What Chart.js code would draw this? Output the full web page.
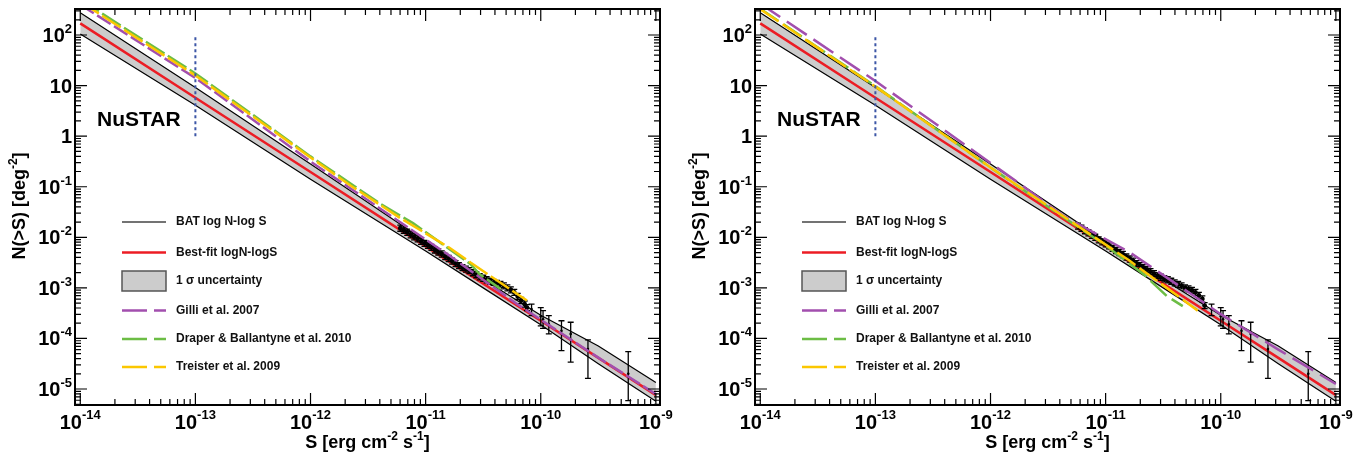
<!DOCTYPE html>
<html>
<head>
<meta charset="utf-8">
<script src="https://cdn.jsdelivr.net/npm/chart.js@4/dist/chart.umd.min.js"></script>
<style>
html, body { margin: 0; padding: 0; background: #fff; }
#wrap { position: relative; width: 1362px; height: 458px; }
.panel { position: absolute; top: 0; }
#p1 { left: 0; }
#p2 { left: 680px; }
</style>
</head>
<body>
<div id="wrap">
  <div class="panel" id="p1"><canvas id="c1" width="680" height="458"></canvas></div>
  <div class="panel" id="p2"><canvas id="c2" width="682" height="458"></canvas></div>
</div>
<script>
// valores en log10
const bandLogS  = [-14, -13, -12, -11, -10.5, -10, -9.5, -9];
const bandUpper = [2.44, 0.96, -0.55, -2.08, -2.83, -3.54, -4.15, -4.87];
const bandLower = [2.02, 0.61, -0.85, -2.27, -3.00, -3.73, -4.50, -5.24];
const bestFit   = [2.23, 0.76, -0.71, -2.18, -2.915, -3.65, -4.385, -5.12];

// modelos, panel izquierdo
const gilliLS    = [-14, -13, -12, -11.39, -10.8, -10.2, -9.5, -9];
const gilliLN    = [2.60, 1.15, -0.50, -1.44, -2.35, -3.33, -4.38, -5.10];
const draperLS   = [-14, -13, -12, -11.39, -11.11, -10.61, -10.53, -10.35];
const draperLN   = [2.70, 1.24, -0.40, -1.34, -1.72, -2.53, -2.73, -3.02];
const treisterLS = [-14, -13, -12, -11.65, -11.22, -10.79, -10.61, -10.12];
const treisterLN = [2.66, 1.20, -0.42, -0.98, -1.62, -2.21, -2.50, -3.25];

// modelos, panel derecho
const gilliRS    = [-14, -13, -12, -11.8, -11.37, -10.79, -10, -9.5, -9];
const gilliRN    = [2.62, 1.09, -0.53, -0.85, -1.57, -2.30, -3.52, -4.22, -4.90];
const draperRS   = [-14, -13, -12, -11.37, -11.02, -10.67, -10.47, -10.33];
const draperRN   = [2.52, 0.99, -0.62, -1.60, -2.13, -2.73, -3.16, -3.36];
const treisterRS = [-14, -13, -12, -11.37, -10.8, -10.2];
const treisterRN = [2.51, 0.98, -0.62, -1.58, -2.45, -3.45];

// datos BAT (zona densa)
const denseLS = [-11.22, -11.19, -11.16, -11.13, -11.10, -11.07, -11.04, -11.01, -10.98, -10.95,
                 -10.92, -10.89, -10.86, -10.83, -10.80, -10.77, -10.74, -10.71, -10.68, -10.65,
                 -10.62, -10.59, -10.56, -10.53, -10.50, -10.47, -10.44, -10.41, -10.38, -10.35,
                 -10.32, -10.29, -10.26, -10.23, -10.20, -10.17, -10.14, -10.12];
const denseLN = [-1.82, -1.86, -1.90, -1.95, -1.99, -2.03, -2.08, -2.12, -2.16, -2.20,
                 -2.25, -2.29, -2.33, -2.38, -2.42, -2.47, -2.52, -2.56, -2.60, -2.63,
                 -2.66, -2.70, -2.74, -2.78, -2.81, -2.84, -2.87, -2.89, -2.91, -2.93,
                 -2.96, -3.00, -3.04, -3.09, -3.17, -3.25, -3.32, -3.39];
const denseRS = [-11.24, -11.21, -11.18, -11.15, -11.12, -11.09, -11.06, -11.03, -11.00, -10.97,
                 -10.94, -10.91, -10.88, -10.85, -10.82, -10.79, -10.76, -10.73, -10.70, -10.67,
                 -10.64, -10.61, -10.58, -10.55, -10.52, -10.49, -10.46, -10.43, -10.40, -10.37,
                 -10.34, -10.31, -10.28, -10.25, -10.22, -10.19, -10.16, -10.14];
const denseRN = [-1.78, -1.82, -1.87, -1.91, -1.96, -2.00, -2.05, -2.09, -2.13, -2.17,
                 -2.22, -2.26, -2.30, -2.34, -2.39, -2.43, -2.47, -2.52, -2.56, -2.60,
                 -2.64, -2.68, -2.72, -2.76, -2.79, -2.82, -2.84, -2.87, -2.90, -2.93,
                 -2.96, -3.00, -3.02, -3.05, -3.09, -3.15, -3.22, -3.35];
const denseErr = 0.06;

// datos BAT (flujos altos, con barras de error)
const sparseS  = [-10.08, -10.00, -9.98, -9.93, -9.82, -9.74, -9.59, -9.24];
const sparseN  = [-3.42, -3.56, -3.62, -3.72, -3.85, -3.91, -4.21, -4.70];
const sparseHi = [-3.32, -3.39, -3.45, -3.55, -3.65, -3.68, -4.03, -4.26];
const sparseLo = [-3.55, -3.75, -3.80, -3.91, -4.24, -4.47, -4.79, -5.23];

// linea vertical NuSTAR
const nustarS = [-13, -13];
const nustarN = [0, 2];

const xTickExp = [-14, -13, -12, -11, -10, -9];
const yTickExp = [2, 1, 0, -1, -2, -3, -4, -5];
const legendLabels = ['BAT log N-log S', 'Best-fit logN-logS', '1 \u03c3 uncertainty',
                      'Gilli et al. 2007', 'Draper & Ballantyne et al. 2010', 'Treister et al. 2009'];

const RED = '#ec1c24', PURPLE = '#a24fae', GREEN = '#6cbd45', YELLOW = '#fbc700', BLUE = '#3c56a6';
const FONT = '"Liberation Sans", Arial, sans-serif';

function pts(ls, ln) {
    return ls.map((v, i) => ({ x: Math.pow(10, v), y: Math.pow(10, ln[i]) }));
}

// texto con superindice: partes [texto, esSuper]
function drawRich(ctx, parts, x, y, align, big, small, rise) {
    let w = 0;
    parts.forEach(p => {
        ctx.font = 'bold ' + (p[1] ? small : big) + 'px ' + FONT;
        w += ctx.measureText(p[0]).width;
    });
    let cx = align === 'center' ? x - w / 2 : (align === 'right' ? x - w : x);
    ctx.textAlign = 'left';
    ctx.textBaseline = 'alphabetic';
    parts.forEach(p => {
        ctx.font = 'bold ' + (p[1] ? small : big) + 'px ' + FONT;
        ctx.fillText(p[0], cx, p[1] ? y - rise : y);
        cx += ctx.measureText(p[0]).width;
    });
}

// barras de error
const errorBars = {
    id: 'errorBars',
    afterDatasetDraw(chart, args) {
        const ds = chart.data.datasets[args.index];
        if (!ds.errHi) return;
        const { ctx, chartArea: a, scales: { x, y } } = chart;
        ctx.save();
        ctx.beginPath();
        ctx.rect(a.left, a.top, a.right - a.left, a.bottom - a.top);
        ctx.clip();
        ctx.strokeStyle = '#000';
        ctx.lineWidth = 1.3;
        ds.data.forEach((p, i) => {
            const px = x.getPixelForValue(p.x);
            const y1 = y.getPixelForValue(ds.errHi[i]);
            const y2 = y.getPixelForValue(ds.errLo[i]);
            const c = ds.capWidth;
            ctx.beginPath();
            ctx.moveTo(px, y1); ctx.lineTo(px, y2);
            ctx.moveTo(px - c, y1); ctx.lineTo(px + c, y1);
            ctx.moveTo(px - c, y2); ctx.lineTo(px + c, y2);
            ctx.stroke();
        });
        ctx.restore();
    }
};

// marco, marcas, etiquetas, titulos y leyenda estilo ROOT
const decorations = {
    id: 'decorations',
    afterDraw(chart) {
        const { ctx, chartArea: a, scales: { x, y } } = chart;
        ctx.save();
        ctx.strokeStyle = '#000';
        ctx.fillStyle = '#000';
        ctx.lineWidth = 1.2;
        ctx.beginPath();
        for (let e = -15; e <= -9; e++) {
            for (let m = 1; m <= 9; m++) {
                const v = m * Math.pow(10, e);
                if (v < x.min || v > x.max) continue;
                const px = x.getPixelForValue(v);
                const len = m === 1 ? 12 : 6;
                ctx.moveTo(px, a.bottom); ctx.lineTo(px, a.bottom - len);
                ctx.moveTo(px, a.top); ctx.lineTo(px, a.top + len);
            }
        }
        for (let e = -6; e <= 2; e++) {
            for (let m = 1; m <= 9; m++) {
                const v = m * Math.pow(10, e);
                if (v < y.min || v > y.max) continue;
                const py = y.getPixelForValue(v);
                const len = m === 1 ? 12 : 6;
                ctx.moveTo(a.left, py); ctx.lineTo(a.left + len, py);
                ctx.moveTo(a.right, py); ctx.lineTo(a.right - len, py);
            }
        }
        ctx.stroke();
        ctx.lineWidth = 2;
        ctx.strokeRect(a.left, a.top, a.right - a.left, a.bottom - a.top);

        // etiquetas de los ejes
        xTickExp.forEach(e => {
            const px = x.getPixelForValue(Math.pow(10, e));
            drawRich(ctx, [['10', false], [String(e), true]], px, 429, 'center', 20, 13, 10);
        });
        yTickExp.forEach(e => {
            const py = y.getPixelForValue(Math.pow(10, e));
            let parts;
            if (e === 0) parts = [['1', false]];
            else if (e === 1) parts = [['10', false]];
            else parts = [['10', false], [String(e), true]];
            drawRich(ctx, parts, a.left - 3, py + 7, 'right', 20, 13, 9);
        });

        // titulos
        drawRich(ctx, [['S [erg cm', false], ['-2', true], [' s', false], ['-1', true], [']', false]],
                 (a.left + a.right) / 2, 448, 'center', 18, 12, 8);
        ctx.save();
        ctx.translate(25, 206);
        ctx.rotate(-Math.PI / 2);
        drawRich(ctx, [['N(>S) [deg', false], ['-2', true], [']', false]], 0, 0, 'center', 18, 12, 8);
        ctx.restore();

        ctx.font = 'bold 21px ' + FONT;
        ctx.textAlign = 'left';
        ctx.textBaseline = 'alphabetic';
        ctx.fillText('NuSTAR', 97, 126);

        // leyenda
        const rows = [222, 252.5, 281, 310.5, 339, 367];
        const x0 = 122, x1 = 166;
        ctx.lineCap = 'butt';
        rows.forEach((ry, i) => {
            ctx.save();
            if (i === 0) {
                ctx.strokeStyle = '#444'; ctx.lineWidth = 1.5;
            } else if (i === 1) {
                ctx.strokeStyle = RED; ctx.lineWidth = 2.5;
            } else if (i === 2) {
                ctx.fillStyle = '#cccccc';
                ctx.fillRect(x0, ry - 10, x1 - x0, 20);
                ctx.strokeStyle = '#555'; ctx.lineWidth = 1.5;
                ctx.strokeRect(x0, ry - 10, x1 - x0, 20);
            } else {
                ctx.strokeStyle = [PURPLE, GREEN, YELLOW][i - 3];
                ctx.lineWidth = 2.5;
                ctx.setLineDash([25, 7]);
            }
            if (i !== 2) {
                ctx.beginPath(); ctx.moveTo(x0, ry); ctx.lineTo(x1, ry); ctx.stroke();
            }
            ctx.restore();
            ctx.font = 'bold 12px ' + FONT;
            ctx.fillStyle = '#111';
            ctx.textBaseline = 'middle';
            ctx.fillText(legendLabels[i], 176, ry);
        });
        ctx.restore();
    }
};

function lineDs(data, color, width, dash, order) {
    return {
        data: data, borderColor: color, borderWidth: width, borderDash: dash || [],
        pointRadius: 0, fill: false, tension: 0, order: order
    };
}

function buildChart(canvasId, rightPad, models, denseS, denseN, modelDash) {
    const datasets = [
        Object.assign(lineDs(pts(bandLogS, bandUpper), '#000', 1.2, null, 20),
                      { fill: { target: 1 }, backgroundColor: '#cccccc' }),
        lineDs(pts(bandLogS, bandLower), '#000', 1.2, null, 19),
        lineDs(pts(bandLogS, bestFit), RED, 2.5, null, 15),
        {
            data: pts(denseS, denseN), showLine: false, pointRadius: 2.4,
            pointBackgroundColor: '#000', pointBorderWidth: 0, order: 12, capWidth: 3,
            errHi: denseN.map(v => Math.pow(10, v + denseErr)),
            errLo: denseN.map(v => Math.pow(10, v - denseErr))
        },
        {
            data: pts(sparseS, sparseN), showLine: false, pointRadius: 1.3,
            pointBackgroundColor: '#000', pointBorderWidth: 0, order: 11, capWidth: 3,
            errHi: sparseHi.map(v => Math.pow(10, v)),
            errLo: sparseLo.map(v => Math.pow(10, v))
        },
        lineDs(pts(models[0][0], models[0][1]), PURPLE, 2.5, modelDash[0], 5),
        lineDs(pts(models[1][0], models[1][1]), GREEN, 2.5, modelDash[1], 4),
        lineDs(pts(models[2][0], models[2][1]), YELLOW, 2.5, modelDash[2], 3),
        lineDs(pts(nustarS, nustarN), BLUE, 2, [3, 3], 1)
    ];
    return new Chart(document.getElementById(canvasId), {
        type: 'line',
        data: { datasets: datasets },
        plugins: [errorBars, decorations],
        options: {
            responsive: false,
            animation: false,
            devicePixelRatio: 1,
            layout: { padding: { left: 75, right: rightPad, top: 9, bottom: 53 } },
            plugins: { legend: { display: false }, tooltip: { enabled: false } },
            scales: {
                x: { type: 'logarithmic', min: 9.08e-15, max: 1.086e-9, display: false },
                y: { type: 'logarithmic', min: 4.83e-6, max: 327, display: false }
            }
        }
    });
}

buildChart('c1', 20,
    [[gilliLS, gilliLN], [draperLS, draperLN], [treisterLS, treisterLN]],
    denseLS, denseLN, [[16, 4], [22, 4], [22, 4]]);
buildChart('c2', 22,
    [[gilliRS, gilliRN], [draperRS, draperRN], [treisterRS, treisterRN]],
    denseRS, denseRN, [[24, 8], [22, 6], [22, 5]]);
</script>
</body>
</html>
